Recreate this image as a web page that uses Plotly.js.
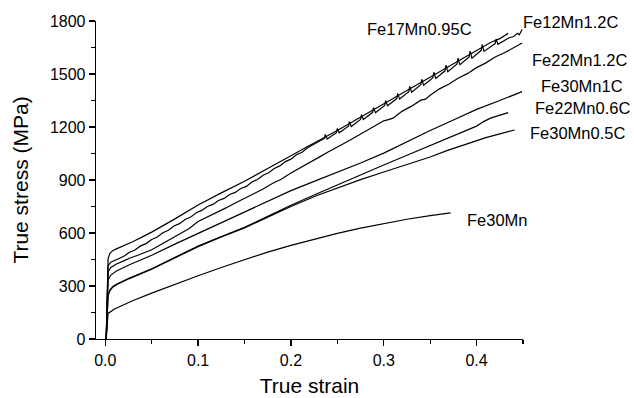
<!DOCTYPE html>
<html>
<head>
<meta charset="utf-8">
<script src="https://cdn.plot.ly/plotly-3.0.1.min.js"></script>
<style>html,body{margin:0;padding:0;background:#fff;}#chart{width:634px;height:398px;}</style>
</head>
<body>
<div id="chart"></div>
<script>
// ---- Data ----
const seriesNames = ["Fe17Mn0.95C", "Fe12Mn1.2C", "Fe22Mn1.2C", "Fe30Mn1C", "Fe22Mn0.6C", "Fe30Mn0.5C", "Fe30Mn"];

const strainFe17 = [0.001,0.002,0.003,0.005,0.008,0.012,0.02,0.03,0.04,0.05,0.075,0.1,0.125,0.15,0.175,0.2,0.22,0.25,0.275,0.3,0.325,0.35,0.375,0.4,0.415,0.425,0.434];
const stressFe17 = [0,250,455,485,500,510,528,552,578,605,680,758,827,893,965,1035,1095,1180,1255,1330,1405,1480,1555,1630,1678,1700,1730];

const strainFe12 = [0.001,0.002,0.003,0.006,0.012,
  0.020,0.026,0.032,0.038,0.044,0.050,0.056,0.062,0.068,0.074,0.080,0.086,0.092,0.098,0.104,0.110,0.116,0.122,0.128,0.134,0.140,0.146,0.152,0.158,0.164,0.170,0.176,0.182,0.188,0.194,0.200,0.206,0.212,0.218,
  0.224,0.236,0.237,0.239,0.249,0.250,0.252,0.262,0.263,0.265,0.275,0.276,0.278,0.288,0.289,0.291,0.301,0.302,0.304,0.314,0.315,0.317,0.327,0.328,0.330,0.340,0.341,0.343,0.353,0.354,0.356,0.366,0.367,0.369,0.379,0.380,0.382,0.392,0.393,0.395,0.405,0.406,0.408,0.420,0.421,0.423,0.435,0.440,0.444,0.446,0.449];
const stressFe12 = [0,220,415,435,450,
  468,491,504,527,540,563,577,601,616,640,653,677,690,715,728,750,762,784,796,818,830,852,864,889,903,927,941,965,980,1004,1018,1043,1057,1082,
  1099,1135,1158,1132,1168,1192,1167,1205,1230,1203,1243,1270,1242,1283,1310,1281,1322,1350,1320,1361,1390,1358,1400,1430,1397,1440,1470,1436,1479,1510,1475,1518,1550,1513,1557,1590,1552,1596,1630,1590,1634,1666,1628,1672,1698,1668,1705,1712,1730,1722,1752];

const strainFe22C12 = [0.001,0.002,0.003,0.006,0.012,0.02,0.026,0.035,0.05,0.06,0.075,0.09,0.1,0.11,0.12,0.13,0.14,0.15,0.16,0.17,0.18,0.19,0.2,0.21,0.22,0.23,0.24,0.25,0.26,0.27,0.28,0.29,0.3,0.305,0.31,0.32,0.33,0.34,0.345,0.35,0.36,0.37,0.38,0.39,0.4,0.41,0.42,0.43,0.44,0.449];
const stressFe22C12 = [0,200,380,405,425,442,457,474,505,535,580,624,665,690,718,742,770,795,823,849,880,906,940,968,1000,1028,1058,1085,1115,1145,1175,1203,1235,1242,1250,1290,1318,1352,1358,1380,1416,1442,1476,1502,1536,1563,1596,1620,1650,1675];

const strainFe30C1 = [0.001,0.002,0.003,0.006,0.012,0.026,0.05,0.075,0.1,0.125,0.15,0.175,0.2,0.225,0.25,0.275,0.3,0.325,0.35,0.375,0.4,0.425,0.449];
const stressFe30C1 = [0,180,334,362,385,420,474,537,598,658,717,780,840,892,943,996,1052,1118,1180,1240,1300,1350,1400];

const strainFe22C06 = [0.001,0.002,0.003,0.005,0.008,0.012,0.026,0.05,0.075,0.1,0.125,0.15,0.175,0.2,0.228,0.25,0.275,0.3,0.325,0.35,0.375,0.4,0.408,0.415,0.434];
const stressFe22C06 = [0,140,250,277,296,310,345,398,462,526,580,632,694,757,822,873,930,985,1040,1095,1148,1205,1232,1250,1281];

const strainFe30C05 = [0.001,0.002,0.003,0.005,0.008,0.012,0.026,0.05,0.075,0.1,0.125,0.15,0.175,0.2,0.228,0.25,0.275,0.3,0.325,0.35,0.368,0.385,0.41,0.425,0.441];
const stressFe30C05 = [0,140,248,274,293,307,342,395,459,523,577,628,690,750,812,856,902,945,988,1030,1066,1097,1140,1161,1183];

const strainFe30 = [0.001,0.002,0.003,0.01,0.02,0.03,0.05,0.075,0.1,0.125,0.15,0.175,0.2,0.225,0.25,0.275,0.3,0.325,0.35,0.372];
const stressFe30 = [0,80,145,170,195,218,260,310,358,405,450,492,530,565,598,628,655,678,698,714];

// label positions in paper coords (centres)
const labelX = [0.7565, 1.111, 1.132, 1.139, 1.139, 1.127, 0.941];
const labelY = [0.975, 0.998, 0.877, 0.795, 0.726, 0.647, 0.373];

// ---- Build traces ----
const xs = [strainFe17, strainFe12, strainFe22C12, strainFe30C1, strainFe22C06, strainFe30C05, strainFe30];
const ys = [stressFe17, stressFe12, stressFe22C12, stressFe30C1, stressFe22C06, stressFe30C05, stressFe30];
const FONT = "Liberation Sans, Arial, Helvetica, sans-serif";

const traces = xs.map((x, i) => ({
  x: x, y: ys[i], type: "scatter", mode: "lines", name: seriesNames[i],
  line: {color: "#000", width: 1.2}, showlegend: false, hoverinfo: "skip"
}));

const annotations = seriesNames.map((n, i) => ({
  text: n, xref: "paper", yref: "paper", x: labelX[i], y: labelY[i],
  xanchor: "center", yanchor: "middle", showarrow: false,
  font: {family: FONT, size: 16.5, color: "#000"}
}));

const axisCommon = {
  showline: true, linecolor: "#000", linewidth: 1.3, mirror: false,
  ticks: "outside", ticklen: 6, tickwidth: 1.3, tickcolor: "#000",
  showgrid: false, zeroline: false,
  tickfont: {family: FONT, size: 16, color: "#000"}
};

const layout = {
  width: 634, height: 398,
  margin: {l: 96, r: 111, t: 21, b: 59},
  paper_bgcolor: "#fff", plot_bgcolor: "#fff",
  showlegend: false, hovermode: false,
  font: {family: FONT, color: "#000"},
  xaxis: Object.assign({}, axisCommon, {
    range: [-0.01, 0.45], tick0: 0, dtick: 0.1, tickformat: ".1f",
    minor: {dtick: 0.05, tick0: 0, ticks: "outside", ticklen: 3.5, tickwidth: 1.3, tickcolor: "#000"},
    title: {text: "True strain", font: {family: FONT, size: 21, color: "#000"}, standoff: 10}
  }),
  yaxis: Object.assign({}, axisCommon, {
    range: [0, 1800], tick0: 0, dtick: 300,
    minor: {dtick: 150, tick0: 0, ticks: "outside", ticklen: 3.5, tickwidth: 1.3, tickcolor: "#000"},
    title: {text: "True stress (MPa)", font: {family: FONT, size: 21, color: "#000"}, standoff: 15}
  }),
  annotations: annotations
};

Plotly.newPlot("chart", traces, layout, {staticPlot: true, displayModeBar: false});
</script>
</body>
</html>
